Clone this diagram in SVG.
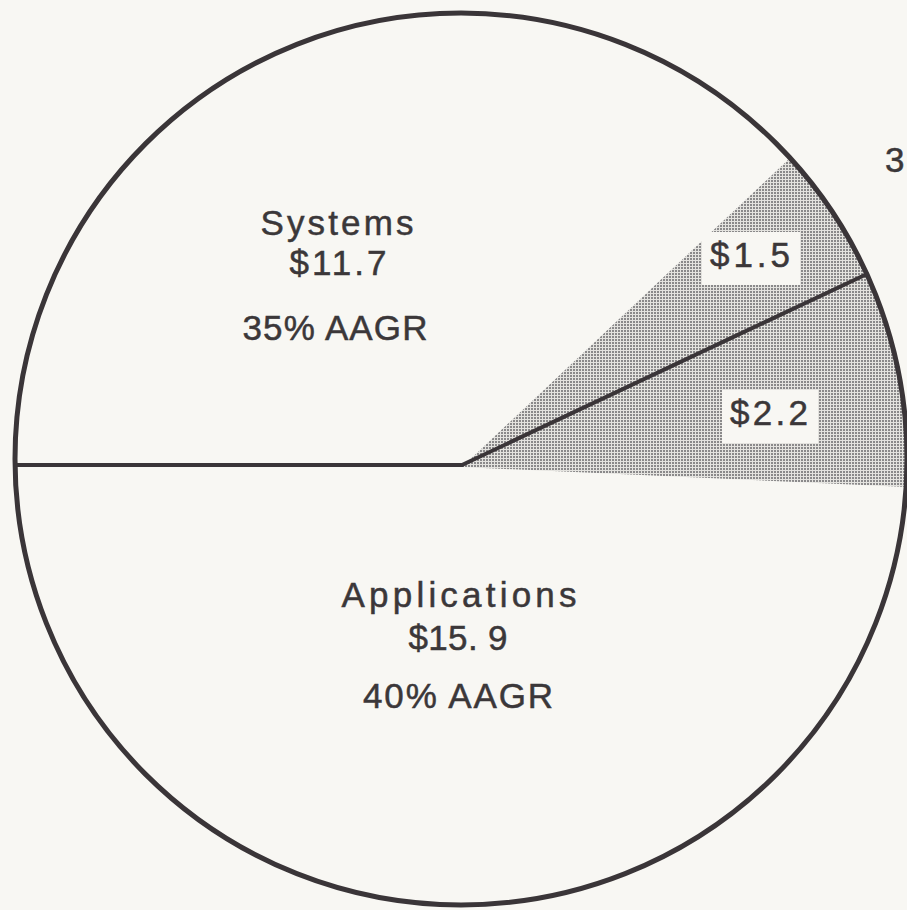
<svg xmlns="http://www.w3.org/2000/svg" width="907" height="910" viewBox="0 0 907 910">
<style>
.t{font-family:"Liberation Sans","DejaVu Sans",sans-serif;fill:#3b3739;stroke:#3b3739;stroke-width:0.5;text-anchor:middle;font-size:35px}
.edge{stroke:#3a3538;fill:none;stroke-linecap:round}
</style>
<defs>
<pattern id="dots" width="3" height="3" patternUnits="userSpaceOnUse">
<rect width="3" height="3" fill="#e4e3df"/>
<rect x="0" y="0" width="2" height="2" fill="#8a898a"/>
</pattern>
</defs>
<rect width="907" height="910" fill="#f8f7f3"/>
<g id="shaded-sectors">
<path d="M462,467 L790,158 A446,446 0 0 1 907,487 Z" fill="url(#dots)"/>
</g>
<g id="pie-outline">
<circle cx="461" cy="459" r="446" class="edge" stroke-width="5"/>
</g>
<g id="connectors">
<line x1="15" y1="465" x2="462" y2="465" class="edge" stroke-width="4"/>
<line x1="462" y1="465" x2="867" y2="274" class="edge" stroke-width="4"/>
</g>
<g id="systems">
<text class="t" x="337" y="235" textLength="153" lengthAdjust="spacing">Systems</text>
<text class="t" x="338" y="275" textLength="97" lengthAdjust="spacing">$11.7</text>
<text class="t" x="335" y="340" textLength="185" lengthAdjust="spacing">35% AAGR</text>
</g>
<g id="small-1">
<rect x="702" y="232" width="98" height="53" fill="#f8f7f3"/>
<text class="t" x="750" y="267" textLength="80" lengthAdjust="spacing">$1.5</text>
</g>
<g id="small-2">
<rect x="722" y="390" width="96" height="53" fill="#f8f7f3"/>
<text class="t" x="769" y="425" textLength="78" lengthAdjust="spacing">$2.2</text>
</g>
<g id="applications">
<text class="t" x="459" y="607" textLength="235" lengthAdjust="spacing">Applications</text>
<text class="t" x="458" y="650" textLength="99" lengthAdjust="spacing">$15. 9</text>
<text class="t" x="458" y="708" textLength="190" lengthAdjust="spacing">40% AAGR</text>
</g>
<g id="right-label">
<text class="t" x="885" y="172" style="text-anchor:start">3</text>
</g>
</svg>
